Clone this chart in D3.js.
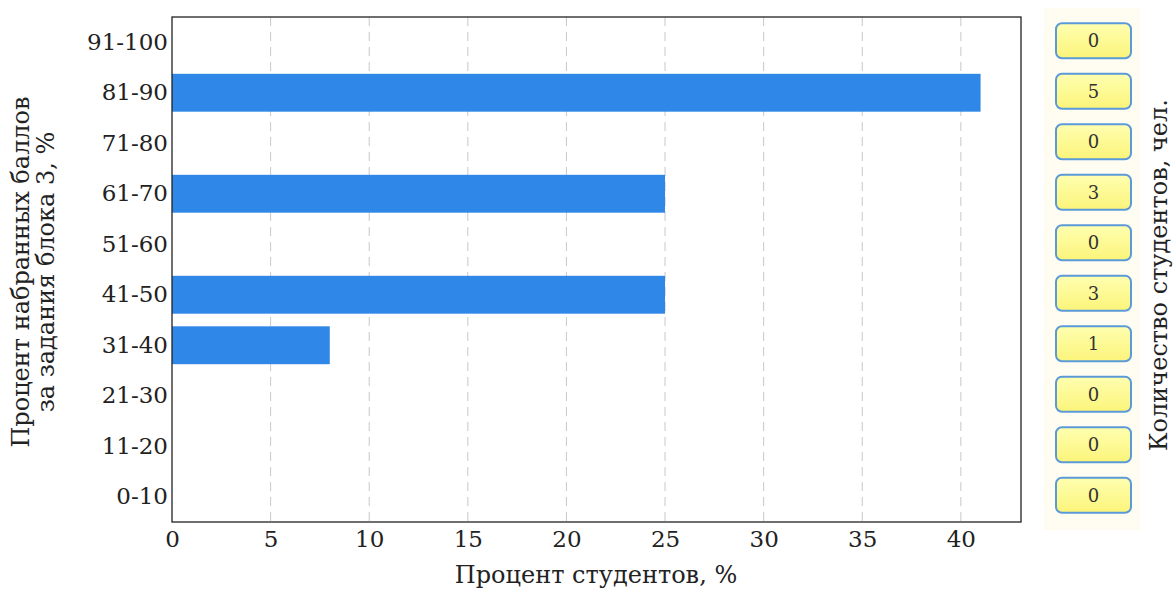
<!DOCTYPE html>
<html><head><meta charset="utf-8">
<script src="https://cdn.jsdelivr.net/npm/d3@7"></script>
<style>body{margin:0;background:#fff;}svg{display:block;font-family:"DejaVu Serif",serif;}</style>
</head><body><svg id="c" width="1173" height="590"></svg>
<script>
const categories = ["0-10","11-20","21-30","31-40","41-50","51-60","61-70","71-80","81-90","91-100"];
const percents = [0,0,0,8,25,0,25,0,41,0];
const counts = [0,0,0,1,3,0,3,0,5,0];
const xTicks = [0,5,10,15,20,25,30,35,40];
const xLabel = "Процент студентов, %";
const yLabelLines = ["Процент набранных баллов","за задания блока 3, %"];
const rightLabel = "Количество студентов, чел.";

const svg = d3.select("#c");
const L = 172, R = 1021, T = 17, B = 522;
const x = d3.scaleLinear().domain([0, d3.max(percents)*1.05]).range([L, R]);
const yIdx = d3.scaleLinear().domain([-0.5, 9.5]).range([B, T]);
const band = (B - T) / categories.length;

// grid
svg.append("g").selectAll("line").data(xTicks.filter(d=>d>0)).join("line")
  .attr("x1", d=>x(d)).attr("x2", d=>x(d)).attr("y1", T).attr("y2", B)
  .attr("stroke", "#c8c8c8").attr("stroke-width", 1).attr("stroke-dasharray", "9,6");

// bars
svg.append("g").selectAll("rect").data(categories.map((c,i)=>({c,v:percents[i],i}))).join("rect")
  .attr("x", x(0)).attr("y", d=>yIdx(d.i) - band*0.375)
  .attr("width", d=>x(d.v)-x(0)).attr("height", band*0.75)
  .attr("fill", "#2f87e8");

// frame
svg.append("rect").attr("x", L).attr("y", T).attr("width", R-L).attr("height", B-T)
  .attr("fill","none").attr("stroke","#222").attr("stroke-width",1.3);

// x axis
const xAxis = d3.axisBottom(x).tickValues(xTicks).tickSize(0).tickPadding(9).tickFormat(d3.format("d"));
const gx = svg.append("g").attr("transform", `translate(0,${B})`).call(xAxis);
gx.select(".domain").remove();
gx.selectAll("text").attr("font-size", 23).attr("font-family","DejaVu Serif").attr("fill","#222");

// y axis
const y = d3.scaleBand().domain(categories).range([B, T]);
const yAxis = d3.axisLeft(y).tickSize(0).tickPadding(4);
const gy = svg.append("g").attr("transform", `translate(${L},0)`).call(yAxis);
gy.select(".domain").remove();
gy.selectAll("text").attr("font-size", 23).attr("font-family","DejaVu Serif").attr("fill","#222");

// axis labels
svg.append("text").attr("x", 596).attr("y", 583).attr("text-anchor","middle")
  .attr("font-size", 24).attr("fill","#222").text(xLabel);
const yl = svg.append("text").attr("transform", "translate(29,272) rotate(-90)")
  .attr("text-anchor","middle").attr("font-size",24).attr("fill","#222");
yLabelLines.forEach((t,i)=>yl.append("tspan").attr("x",0).attr("dy", i===0?0:25).text(t));

// right panel
const defs = svg.append("defs");
const g = defs.append("linearGradient").attr("id","yg").attr("x1",0).attr("y1",0).attr("x2",0).attr("y2",1);
g.append("stop").attr("offset","0%").attr("stop-color","#ffffb0");
g.append("stop").attr("offset","100%").attr("stop-color","#fbf47a");
svg.append("rect").attr("x",1044).attr("y",8).attr("width",96).attr("height",522).attr("fill","#fffdf2");
const boxes = svg.append("g").selectAll("g").data(counts.map((v,i)=>({v,i}))).join("g")
  .attr("transform", d=>`translate(1093.5,${yIdx(d.i) - 1.5})`);
boxes.append("rect").attr("x",-37.5).attr("y",-17.5).attr("width",75).attr("height",35).attr("rx",6)
  .attr("fill","url(#yg)").attr("stroke","#5b9ad8").attr("stroke-width",2);
boxes.append("text").attr("text-anchor","middle").attr("dy","0.35em").attr("font-size",18)
  .attr("fill","#333").text(d=>d.v);
svg.append("text").attr("transform","translate(1167,275) rotate(-90)").attr("text-anchor","middle")
  .attr("font-size",24).attr("fill","#222").text(rightLabel);
</script></body></html>
